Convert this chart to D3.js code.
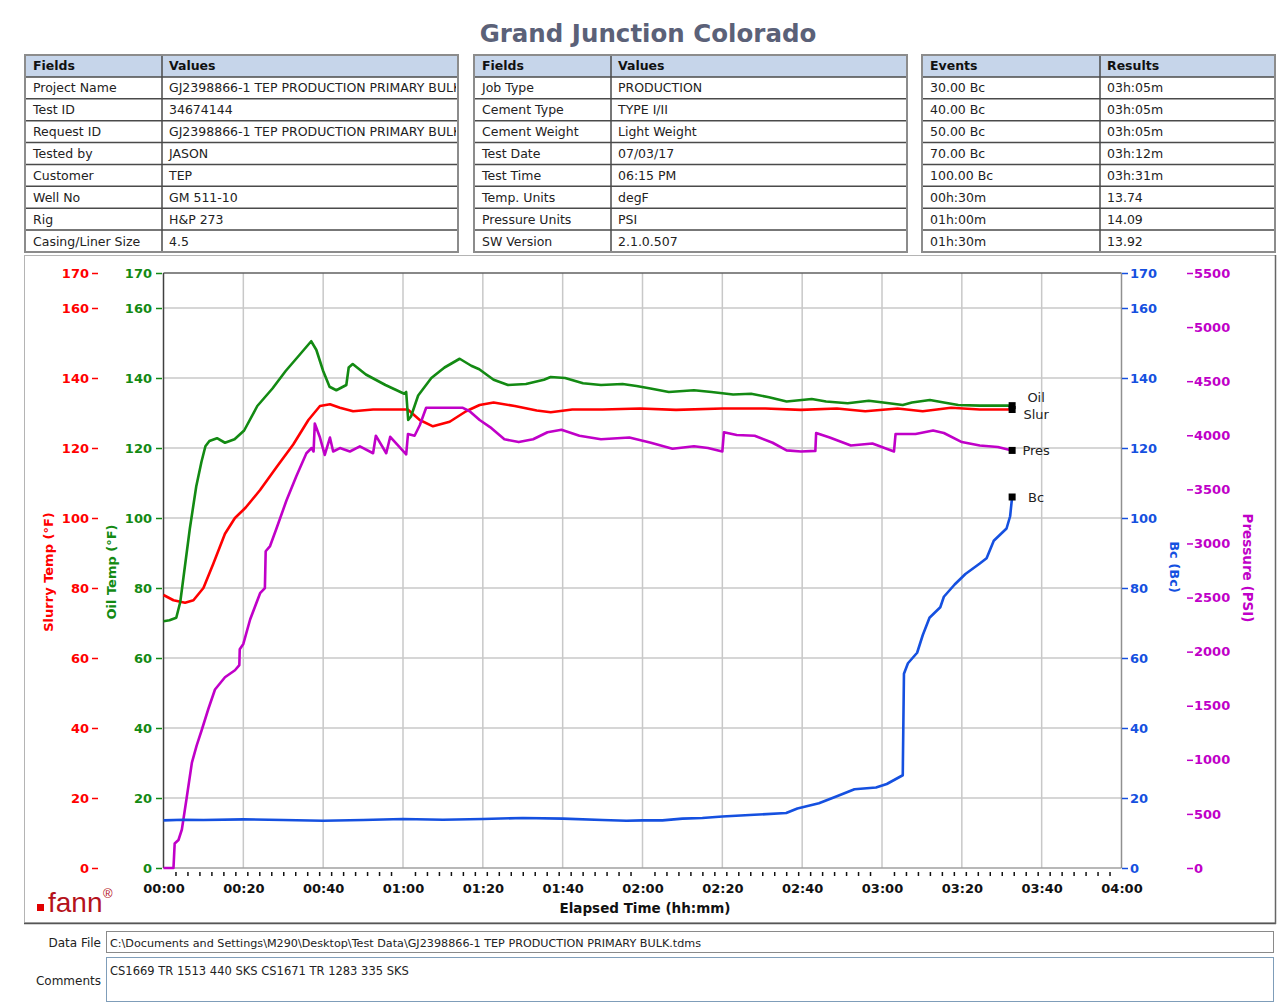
<!DOCTYPE html>
<html>
<head>
<meta charset="utf-8">
<script src="https://cdn.jsdelivr.net/npm/d3@7"></script>
<style>
  body { margin: 0; background: #fff; }
  svg { display: block; font-family: 'DejaVu Sans', Verdana, sans-serif; }
</style>
</head>
<body>
<svg id="chart" width="1283" height="1004"></svg>
<script>
// ---------- report tables ----------
const fields1 = ['Project Name', 'Test ID', 'Request ID', 'Tested by', 'Customer', 'Well No', 'Rig', 'Casing/Liner Size'];
const values1 = ['GJ2398866-1 TEP PRODUCTION PRIMARY BULK', '34674144', 'GJ2398866-1 TEP PRODUCTION PRIMARY BULK', 'JASON', 'TEP', 'GM 511-10', 'H&P 273', '4.5'];
const fields2 = ['Job Type', 'Cement Type', 'Cement Weight', 'Test Date', 'Test Time', 'Temp. Units', 'Pressure Units', 'SW Version'];
const values2 = ['PRODUCTION', 'TYPE I/II', 'Light Weight', '07/03/17', '06:15 PM', 'degF', 'PSI', '2.1.0.507'];
const events = ['30.00 Bc', '40.00 Bc', '50.00 Bc', '70.00 Bc', '100.00 Bc', '00h:30m', '01h:00m', '01h:30m'];
const results = ['03h:05m', '03h:05m', '03h:05m', '03h:12m', '03h:31m', '13.74', '14.09', '13.92'];

// ---------- series (time in minutes) ----------
const slurryTime = [0, 2.5, 5.4, 7.5, 10, 12.5, 15.4, 17.9, 20.6, 24.2, 28.3, 32.5, 36.3, 39.2, 41.7, 44.2, 47.5, 52.5, 61.2, 64.2, 67.5, 71.7, 75.8, 79.2, 82.7, 88, 93.5, 97, 102.4, 110, 119.4, 128.4, 140, 150.8, 159.7, 168.7, 175.8, 183.9, 190.2, 197.3, 204.5, 212.6];
const slurryTemp = [78, 76.5, 75.8, 76.5, 80, 87, 95.5, 100, 103, 108, 114.5, 121, 128, 132, 132.5, 131.5, 130.5, 131, 131, 128, 126.2, 127.5, 130.5, 132.3, 133, 132, 130.7, 130.2, 131, 131, 131.3, 130.9, 131.3, 131.3, 130.9, 131.3, 130.5, 131.3, 130.5, 131.5, 131, 131];

const oilTime = [0, 1.5, 3.2, 4.2, 5, 6.6, 8.2, 9.5, 10.5, 11.5, 13.4, 15.4, 17.8, 20.2, 23.5, 27.3, 30.6, 34, 37, 38.3, 40, 41.6, 43.3, 45.8, 46.4, 47.4, 50.7, 55.6, 60.3, 60.8, 61.3, 62, 63.8, 67.1, 70.4, 74.2, 77.1, 79.1, 82.7, 86.3, 90.8, 95.3, 97, 100.6, 105.1, 109.6, 115, 118.5, 122, 126.6, 132.9, 137.3, 142.7, 147.2, 151.7, 156.1, 162.4, 166, 171.4, 176.7, 180.3, 185.2, 187.5, 192, 195.5, 199.1, 204.5, 212.6];
const oilTemp = [70.5, 70.8, 71.5, 76, 83, 97, 109, 116, 120.5, 122, 122.8, 121.5, 122.5, 125, 132, 137, 142, 146.5, 150.5, 148, 142, 137.5, 136.5, 138, 143, 144, 141, 138, 135.5, 136, 128, 129, 135, 140, 143, 145.5, 143.5, 142.5, 139.5, 138, 138.3, 139.5, 140.3, 140, 138.5, 138, 138.3, 137.7, 137, 136, 136.5, 136, 135.3, 135.5, 134.5, 133.3, 134, 133.3, 132.8, 133.5, 133, 132.3, 133, 133.7, 133, 132.3, 132.1, 132.1];

const presTime = [0, 2.5, 2.8, 3.75, 4.6, 5.8, 7.1, 8.3, 9.6, 11.25, 12.9, 15.4, 17.9, 19, 19.1, 20, 21.7, 24.2, 25.4, 25.6, 26.7, 28.3, 30.8, 33.3, 35.8, 37.1, 37.6, 37.9, 39.2, 40.4, 41.7, 42.5, 44.2, 46.7, 49.2, 52.5, 53.2, 55.8, 56.8, 60.8, 61.25, 62.9, 64.2, 65.8, 70, 75, 76.7, 79.2, 81.8, 85.4, 89, 92.6, 96.2, 99.7, 104.2, 109.6, 116.7, 122.1, 127.5, 132.9, 136.4, 140, 140.4, 143.6, 148.1, 152.6, 156.1, 159.7, 163.3, 163.5, 166.9, 172.2, 177.6, 183, 183.4, 188.4, 192.8, 195.5, 200, 204.5, 209, 212.6];
const presPsi = [0, 0, 226, 259, 356, 647, 971, 1132, 1278, 1472, 1650, 1763, 1828, 1876, 2022, 2071, 2297, 2540, 2588, 2928, 2976, 3138, 3397, 3624, 3834, 3882, 3850, 4109, 3979, 3818, 3979, 3850, 3882, 3850, 3898, 3834, 3996, 3834, 3986, 3824, 4012, 3996, 4093, 4254, 4254, 4254, 4222, 4141, 4076, 3963, 3937, 3963, 4028, 4051, 3996, 3963, 3979, 3931, 3876, 3898, 3882, 3850, 4028, 4002, 3996, 3931, 3860, 3850, 3856, 4021, 3979, 3905, 3924, 3850, 4012, 4012, 4044, 4021, 3937, 3905, 3892, 3860];

const bcTime = [0, 5, 10, 20, 30, 40, 50, 60, 70, 80, 90, 100, 110, 116, 120, 125, 130, 135, 140, 148, 156, 158.8, 164.2, 168.7, 173.1, 178.5, 181.2, 185.2, 185.5, 186.5, 188.8, 190.2, 191.9, 194.6, 195.5, 198.2, 200.9, 204.5, 206.2, 208, 211.2, 212.1, 212.6];
const bcValue = [13.6, 13.8, 13.7, 13.9, 13.7, 13.5, 13.7, 14.0, 13.8, 14.0, 14.3, 14.1, 13.7, 13.5, 13.6, 13.6, 14.1, 14.3, 14.7, 15.2, 15.7, 17, 18.5, 20.5, 22.5, 23, 24, 26.5, 55.5, 58.5, 61.5, 66.5, 71.5, 74.5, 77.5, 81, 84, 87, 88.5, 93.5, 97, 100.5, 106];

// ---------- axis ticks ----------
const timeTicks = [0, 20, 40, 60, 80, 100, 120, 140, 160, 180, 200, 220, 240];
const tempTicks = [0, 20, 40, 60, 80, 100, 120, 140, 160, 170];
const bcTicks = [0, 20, 40, 60, 80, 100, 120, 140, 160, 170];
const presTicks = [0, 500, 1000, 1500, 2000, 2500, 3000, 3500, 4000, 4500, 5000, 5500];

const RED = '#ff0000', GREEN = '#138a13', BLUE = '#1550e0', MAGENTA = '#c000c8';

const svg = d3.select('#chart');

// title
svg.append('text')
    .attr('x', 648).attr('y', 42)
    .attr('text-anchor', 'middle')
    .style('font-size', '24.5px').style('font-weight', 'bold')
    .attr('fill', '#5b6178')
    .text('Grand Junction Colorado');

// ---------- tables ----------
const tableTop = 55, rowH = (252 - 55) / 9;

function drawTable(x0, xs, x1, heads, col1, col2, id) {
    const g = svg.append('g');
    svg.append('clipPath').attr('id', id)
        .append('rect').attr('x', xs).attr('y', tableTop).attr('width', x1 - xs - 2).attr('height', rowH * 9);

    // header background
    g.append('rect').attr('x', x0).attr('y', tableTop).attr('width', x1 - x0).attr('height', rowH)
        .attr('fill', '#c6d5ea');

    // row separators
    for (let i = 1; i < 9; i++) {
        g.append('line').attr('x1', x0).attr('x2', x1)
            .attr('y1', tableTop + i * rowH).attr('y2', tableTop + i * rowH)
            .attr('stroke', '#4a4a4a').attr('stroke-width', 1.5);
    }
    g.append('line').attr('x1', xs).attr('x2', xs).attr('y1', tableTop).attr('y2', tableTop + 9 * rowH)
        .attr('stroke', '#4a4a4a').attr('stroke-width', 1.5);
    g.append('rect').attr('x', x0).attr('y', tableTop).attr('width', x1 - x0).attr('height', 9 * rowH)
        .attr('fill', 'none').attr('stroke', '#8c8c8c').attr('stroke-width', 2);

    const fontSize = '12.5px';
    g.append('text').attr('x', x0 + 8).attr('y', tableTop + rowH / 2 + 4.5)
        .style('font-size', fontSize).style('font-weight', 'bold').attr('fill', '#111').text(heads[0]);
    g.append('text').attr('x', xs + 7).attr('y', tableTop + rowH / 2 + 4.5)
        .style('font-size', fontSize).style('font-weight', 'bold').attr('fill', '#111').text(heads[1]);

    col1.forEach((t, i) => {
        g.append('text').attr('x', x0 + 8).attr('y', tableTop + (i + 1) * rowH + rowH / 2 + 4.5)
            .style('font-size', fontSize).attr('fill', '#222').text(t);
    });
    const vg = g.append('g').attr('clip-path', `url(#${id})`);
    col2.forEach((t, i) => {
        vg.append('text').attr('x', xs + 7).attr('y', tableTop + (i + 1) * rowH + rowH / 2 + 4.5)
            .style('font-size', fontSize).attr('fill', '#222').text(t);
    });
}

drawTable(25, 162, 458, ['Fields', 'Values'], fields1, values1, 'clip1');
drawTable(474, 611, 907, ['Fields', 'Values'], fields2, values2, 'clip2');
drawTable(922, 1100, 1275, ['Events', 'Results'], events, results, 'clip3');

// ---------- chart panel ----------
svg.append('rect').attr('x', 24.5).attr('y', 255.5).attr('width', 1251).attr('height', 667)
    .attr('fill', 'none').attr('stroke', '#b4b4b4').attr('stroke-width', 1);
svg.append('line').attr('x1', 24).attr('x2', 1276).attr('y1', 923.5).attr('y2', 923.5)
    .attr('stroke', '#555').attr('stroke-width', 1.5);
svg.append('line').attr('x1', 1275.5).attr('x2', 1275.5).attr('y1', 255).attr('y2', 924)
    .attr('stroke', '#666').attr('stroke-width', 1.5);

const x = d3.scaleLinear().domain([0, 240]).range([163.5, 1121.5]);
const yTemp = d3.scaleLinear().domain([0, 170]).range([868, 273]);
const yBc = d3.scaleLinear().domain([0, 170]).range([868, 273]);
const yPres = d3.scaleLinear().domain([0, 5500]).range([868, 273]);

// grid
const grid = svg.append('g');
grid.selectAll('line.h').data(tempTicks.filter(d => d > 0 && d < 170)).enter().append('line')
    .attr('x1', x(0)).attr('x2', x(240))
    .attr('y1', d => yTemp(d)).attr('y2', d => yTemp(d))
    .attr('stroke', '#c8c8c8').attr('stroke-width', 1.5);
grid.selectAll('line.v').data(timeTicks.filter(d => d > 0 && d < 240)).enter().append('line')
    .attr('x1', d => x(d)).attr('x2', d => x(d))
    .attr('y1', yTemp(0)).attr('y2', yTemp(170))
    .attr('stroke', '#c8c8c8').attr('stroke-width', 1.5);

// frame
svg.append('line').attr('x1', x(0)).attr('x2', x(240)).attr('y1', yTemp(170)).attr('y2', yTemp(170))
    .attr('stroke', '#606060').attr('stroke-width', 1.5);
svg.append('line').attr('x1', x(0)).attr('x2', x(240)).attr('y1', yTemp(0)).attr('y2', yTemp(0))
    .attr('stroke', '#a0a0a0').attr('stroke-width', 1.5);
svg.append('line').attr('x1', x(240)).attr('x2', x(240)).attr('y1', yTemp(170)).attr('y2', yTemp(0))
    .attr('stroke', '#909090').attr('stroke-width', 1.5);
svg.append('line').attr('x1', x(0)).attr('x2', x(0)).attr('y1', yTemp(170)).attr('y2', yTemp(0))
    .attr('stroke', '#404040').attr('stroke-width', 1.5);

// ---------- axes ----------
function styleAxis(g, color, size) {
    g.attr('font-family', null).attr('font-size', null);
    g.select('.domain').remove();
    g.selectAll('.tick line').attr('stroke', color).attr('stroke-width', 1.5);
    g.selectAll('.tick text').attr('fill', color)
        .style('font-weight', 'bold').style('font-size', size || '13px');
}

svg.append('g').attr('transform', 'translate(98,0)')
    .call(d3.axisLeft(yTemp).tickValues(tempTicks).tickSize(6).tickPadding(3))
    .call(g => styleAxis(g, RED));
svg.append('g').attr('transform', 'translate(162,0)')
    .call(d3.axisLeft(yTemp).tickValues(tempTicks).tickSize(6).tickPadding(4))
    .call(g => styleAxis(g, GREEN));
svg.append('g').attr('transform', 'translate(1122,0)')
    .call(d3.axisRight(yBc).tickValues(bcTicks).tickSize(6).tickPadding(2))
    .call(g => styleAxis(g, BLUE));
svg.append('g').attr('transform', 'translate(1187,0)')
    .call(d3.axisRight(yPres).tickValues(presTicks).tickSize(6).tickPadding(1).tickFormat(d3.format('d')))
    .call(g => styleAxis(g, MAGENTA));

const fmtTime = m => String(Math.floor(m / 60)).padStart(2, '0') + ':' + String(m % 60).padStart(2, '0');
svg.append('g').attr('transform', `translate(0,${yTemp(0)})`)
    .call(d3.axisBottom(x).tickValues(timeTicks).tickSize(0).tickPadding(16).tickFormat(fmtTime))
    .call(g => styleAxis(g, '#111'));

// minor ticks every 3 minutes
const minorTicks = d3.range(3, 240, 3).filter(m => m % 20 !== 0);
svg.append('g').attr('transform', `translate(0,${yTemp(0) + 4})`)
    .call(d3.axisBottom(x).tickValues(minorTicks).tickSize(4).tickFormat(''))
    .call(g => styleAxis(g, '#111'));

// axis titles
function axisTitle(tx, ty, rot, color, text, size) {
    svg.append('text').attr('transform', `translate(${tx},${ty}) rotate(${rot})`)
        .attr('text-anchor', 'middle').attr('fill', color)
        .style('font-size', size).style('font-weight', 'bold').text(text);
}
axisTitle(53, 572, -90, RED, 'Slurry Temp (°F)', '13px');
axisTitle(116, 572, -90, GREEN, 'Oil Temp (°F)', '13px');
axisTitle(1170, 567, 90, BLUE, 'Bc (Bc)', '13px');
axisTitle(1243, 568, 90, MAGENTA, 'Pressure (PSI)', '13.5px');
svg.append('text').attr('x', 645).attr('y', 913).attr('text-anchor', 'middle')
    .style('font-size', '13.5px').style('font-weight', 'bold').attr('fill', '#111')
    .text('Elapsed Time (hh:mm)');

// ---------- lines ----------
const series = [
    { name: 'Slur', t: slurryTime, v: slurryTemp, y: yTemp, color: RED, dy: 5 },
    { name: 'Oil', t: oilTime, v: oilTemp, y: yTemp, color: GREEN, dy: -8 },
    { name: 'Pres', t: presTime, v: presPsi, y: yPres, color: MAGENTA, dy: 0 },
    { name: 'Bc', t: bcTime, v: bcValue, y: yBc, color: BLUE, dy: 0 }
];

const plot = svg.append('g');
series.forEach(s => {
    const pts = s.t.map((t, i) => [t, s.v[i]]);
    plot.append('path').datum(pts)
        .attr('fill', 'none').attr('stroke', s.color).attr('stroke-width', 2.6)
        .attr('stroke-linejoin', 'round')
        .attr('d', d3.line().x(d => x(d[0])).y(d => s.y(d[1])));
});

// end markers + labels
series.forEach(s => {
    const n = s.t.length - 1;
    const ex = x(s.t[n]), ey = s.y(s.v[n]);
    plot.append('rect').attr('x', ex - 3.5).attr('y', ey - 3.5).attr('width', 7).attr('height', 7).attr('fill', '#000');
    plot.append('text').attr('x', ex + 24).attr('y', ey + s.dy).attr('dy', '0.35em')
        .attr('text-anchor', 'middle').style('font-size', '13px').attr('fill', '#222').text(s.name);
});

// ---------- fann logo ----------
svg.append('rect').attr('x', 37).attr('y', 904).attr('width', 7).attr('height', 7).attr('fill', '#e00000');
svg.append('text').attr('x', 48).attr('y', 912)
    .style('font-family', "'Liberation Sans', Arial, sans-serif").style('font-size', '28px')
    .attr('fill', '#b5121b').text('fann');
svg.append('text').attr('x', 103).attr('y', 898)
    .style('font-family', "'Liberation Sans', Arial, sans-serif").style('font-size', '13px')
    .attr('fill', '#b5121b').text('®');

// ---------- data file / comments ----------
const dataFile = 'C:\\Documents and Settings\\M290\\Desktop\\Test Data\\GJ2398866-1 TEP PRODUCTION PRIMARY BULK.tdms';
const comments = 'CS1669 TR 1513 440 SKS CS1671 TR 1283 335 SKS';

svg.append('text').attr('x', 101).attr('y', 947).attr('text-anchor', 'end')
    .style('font-size', '12px').attr('fill', '#222').text('Data File');
svg.append('rect').attr('x', 106.5).attr('y', 931.5).attr('width', 1167).attr('height', 21)
    .attr('fill', '#fff').attr('stroke', '#8a8a8a');
svg.append('text').attr('x', 110).attr('y', 947)
    .style('font-size', '11.2px').attr('fill', '#222').text(dataFile);

svg.append('text').attr('x', 101).attr('y', 985).attr('text-anchor', 'end')
    .style('font-size', '12px').attr('fill', '#222').text('Comments');
svg.append('rect').attr('x', 106.5).attr('y', 957.5).attr('width', 1167).attr('height', 44)
    .attr('fill', '#fff').attr('stroke', '#7f9db9');
svg.append('text').attr('x', 110).attr('y', 975)
    .style('font-size', '11.5px').attr('fill', '#222').text(comments);
</script>
</body>
</html>
